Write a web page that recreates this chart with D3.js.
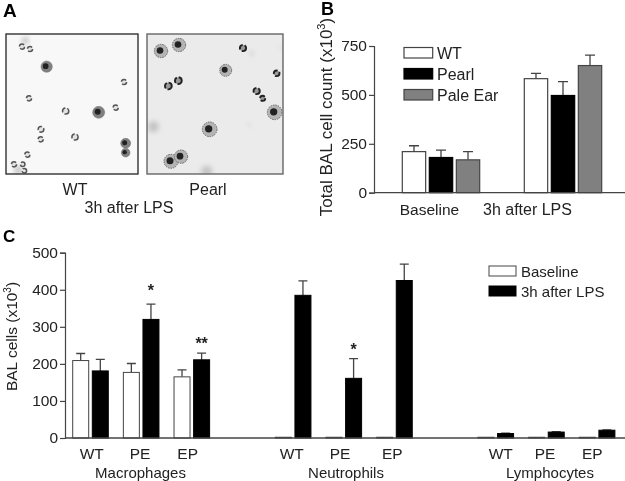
<!DOCTYPE html>
<html><head><meta charset="utf-8">
<script src="https://cdn.jsdelivr.net/npm/d3@7"></script>
<style>html,body{margin:0;padding:0;background:#fff}svg{display:block;filter:blur(.35px)}text{font-family:"Liberation Sans",Arial,sans-serif;fill:#222}</style>
</head><body><svg id="c" width="625" height="481"></svg>
<script>
// Panel B data
const bGroups=["Baseline","3h after LPS"];
const bSeries=["WT","Pearl","Pale Ear"];
const bColors=["#fff","#000","#808080"];
const bMeans=[[210,180,168],[583,497,650]];
const bTops=[[240,218,210],[610,568,703]];
const bTicks=[0,250,500,750];
// Panel C data
const cGroups=["Macrophages","Neutrophils","Lymphocytes"];
const cLabels=["WT","PE","EP"];
const cBaseline=[209,177,165, 2,2,2, 2,2,2];
const cBaseTop=[228,201,184, 2,2,2, 2,2,2];
const cLPS=[181,320,211, 385,161,425, 12,16,21];
const cLPSTop=[212,361,229, 424,214,469, 13,17,22];
const cStars=[null,"*","**",null,"*",null,null,null,null];
const cStarLevel=[null,383,240,null,224,null,null,null,null];
const cTicks=[0,100,200,300,400,500];
const cLegend=["Baseline","3h after LPS"];
// Panel A micrograph cells, [x,y,r]
const wtMacro=[[140,200,17],[296,337,18],[377,430,15],[377,458,13]];
const wtRing=[[66,140,9],[90,147,9],[372,246,9],[87,295,9],[197,333,11],[347,323,9],[123,388,10],[122,418,9],[225,411,11],[82,464,9],[42,493,9],[68,493,8],[73,512,8]];
const wtSmudge=[[76,122,11],[55,510,13]];
const peMacro=[[483,153,20],[537,135,20],[677,211,18],[824,337,22],[629,388,22],[513,484,21],[543,470,20]];
const peRing=[[729,144,11],[830,220,10],[505,258,12],[535,242,12],[770,273,11],[788,295,9]];
const peSmudge=[[460,380,17],[620,514,17],[755,160,6],[748,374,4],[845,143,4]];

const svg=d3.select("#c");
const defs=svg.append("defs");
defs.append("filter").attr("id","soft").append("feGaussianBlur").attr("stdDeviation",0.6);
defs.append("filter").attr("id","soft2").append("feGaussianBlur").attr("stdDeviation",2.5);
const axisCol="#444";

function label(x,y,t,size,anchor,weight){
  return svg.append("text").attr("x",x).attr("y",y).attr("font-size",size)
    .attr("text-anchor",anchor||"middle").attr("font-weight",weight||"normal").text(t);
}
label(3,17,"A",19,"start","bold").style("fill","#000");
label(321,14.5,"B",18,"start","bold").style("fill","#000");
label(3,242,"C",17,"start","bold").style("fill","#000");

// ---- Panel A
const px=d3.scaleLinear([0,930],[0,310]);
function micro(x,y,w,h,fill,stroke,macro,ring,smudge,dark){
  svg.append("rect").attr("x",x).attr("y",y).attr("width",w).attr("height",h).attr("fill",fill);
  const clipId="cl"+x;
  defs.append("clipPath").attr("id",clipId).append("rect").attr("x",x).attr("y",y).attr("width",w).attr("height",h);
  const o=svg.append("g").attr("clip-path",`url(#${clipId})`);
  const sg=o.append("g").attr("filter","url(#soft2)");
  sg.selectAll("circle").data(smudge).join("circle").attr("cx",d=>px(d[0])).attr("cy",d=>px(d[1])).attr("r",d=>px(d[2])).attr("fill","#c4c4c4");
  const cg=o.append("g").attr("filter","url(#soft)");
  cg.selectAll("circle.halo").data(macro).join("circle").attr("class","halo").attr("cx",d=>px(d[0])).attr("cy",d=>px(d[1])).attr("r",d=>px(d[2]))
    .attr("fill",dark?"#b4b4b4":"#808080").attr("stroke",dark?"#666":"#777").attr("stroke-width",dark?1:0.5).attr("stroke-dasharray",dark?"1.5 1":null);
  cg.selectAll("circle.nuc").data(macro).join("circle").attr("class","nuc").attr("cx",d=>px(d[0])-1).attr("cy",d=>px(d[1])-0.5).attr("r",d=>px(d[2])*(dark?0.5:0.5)).attr("fill","#222");
  cg.selectAll("circle.ring").data(ring).join("circle").attr("class","ring").attr("cx",d=>px(d[0])).attr("cy",d=>px(d[1])).attr("r",d=>px(d[2])*0.85)
    .attr("fill",dark?"#999":"#e4e4e4").attr("stroke",dark?"#222":"#555").attr("stroke-width",dark?1.9:1.5).attr("stroke-dasharray","6 2");
  svg.append("rect").attr("x",x).attr("y",y).attr("width",w).attr("height",h).attr("fill","none").attr("stroke",stroke).attr("stroke-width",1.4);
}
micro(6,34,132,140,"#f8f8f8","#333",wtMacro,wtRing,wtSmudge,false);
micro(147,34,136,140,"#ebebeb","#666",peMacro,peRing,peSmudge,true);
label(75,195,"WT",16);
label(208,195,"Pearl",16);
label(129,213,"3h after LPS",16);

// ---- Panel B
const by=d3.scaleLinear([0,750],[192.7,46]);
const bGroupX=d3.scaleOrdinal(bGroups,[402.3,524.3]);
const bx1=d3.scaleBand().domain(bSeries).range([0,77.4]).paddingInner(0.135);
const bAxis=d3.axisLeft(by).tickValues(bTicks).tickSize(5).tickPadding(2).tickFormat(d3.format("d"));
const bg=svg.append("g");
bGroups.forEach((gn,i)=>{
  bSeries.forEach((s,j)=>{
    const x=bGroupX(gn)+bx1(s), w=bx1.bandwidth(), cx=x+w/2;
    bg.append("path").attr("d",`M${cx},${by(bMeans[i][j])}V${by(bTops[i][j])}M${cx-5},${by(bTops[i][j])}H${cx+5}`).attr("stroke",axisCol).attr("stroke-width",1.3).attr("fill","none");
    bg.append("rect").attr("x",x).attr("y",by(bMeans[i][j])).attr("width",w).attr("height",by(0)-by(bMeans[i][j]))
      .attr("fill",bColors[j]).attr("stroke",j==1?"#000":axisCol).attr("stroke-width",1.2);
  });
});
const bAx=svg.append("g").attr("transform","translate(374,0)").call(bAxis);
bAx.selectAll("path,line").attr("stroke",axisCol).attr("stroke-width",1.2);
bAx.selectAll("text").attr("font-size",15.5);
svg.append("line").attr("x1",374).attr("x2",625).attr("y1",by(0)).attr("y2",by(0)).attr("stroke",axisCol).attr("stroke-width",1.3);
label(429.5,215,bGroups[0],15.5);
label(527.5,215,bGroups[1],16);
svg.append("text").attr("transform","translate(332,117) rotate(-90)").attr("text-anchor","middle").attr("font-size",17)
  .html('Total BAL cell count (x10<tspan dy="-7" font-size="11">3</tspan><tspan dy="7">)</tspan>');
const bLegY=d3.scalePoint().domain(bSeries).range([47.5,89.5]);
bSeries.forEach((s,j)=>{
  const y=bLegY(s);
  svg.append("rect").attr("x",404).attr("y",y).attr("width",28.7).attr("height",10.5).attr("fill",bColors[j]).attr("stroke",j==1?"#000":axisCol).attr("stroke-width",1.2);
  label(437,y+11,s,16,"start");
});

// ---- Panel C
const cy=d3.scaleLinear([0,500],[438,252.7]);
const cx=d3.scaleLinear([0,10],[72.7,579.3]);
const cLabelX=d3.scaleOrdinal(d3.range(9),[91.7,140,187.7,291.7,340,392.3,500.7,545,592.3]);
const barW=16, pairGap=19.6;
const cRows=d3.range(9).map(i=>({i,slot:Math.floor(i/3)*4+i%3,lab:cLabels[i%3]}));
const cg=svg.append("g");
function cErr(x,top,mean){
  if(top-mean<1) return;
  const m=x+barW/2;
  cg.append("path").attr("d",`M${m},${cy(mean)}V${cy(top)}M${m-4.5},${cy(top)}H${m+4.5}`).attr("stroke",axisCol).attr("stroke-width",1.3).attr("fill","none");
}
cRows.forEach(r=>{
  const x=cx(r.slot);
  cErr(x,cBaseTop[r.i],cBaseline[r.i]);
  cErr(x+pairGap,cLPSTop[r.i],cLPS[r.i]);
  cg.append("rect").attr("x",x).attr("y",cy(cBaseline[r.i])).attr("width",barW).attr("height",cy(0)-cy(cBaseline[r.i])).attr("fill","#fff").attr("stroke",axisCol).attr("stroke-width",1);
  cg.append("rect").attr("x",x+pairGap).attr("y",cy(cLPS[r.i])).attr("width",barW).attr("height",cy(0)-cy(cLPS[r.i])).attr("fill","#000").attr("stroke","#000").attr("stroke-width",1);
  label(cLabelX(r.i),458.5,r.lab,15.5);
  if(cStars[r.i]){ label(x+pairGap+barW/2,cy(cStarLevel[r.i]),cStars[r.i],16,"middle","bold"); }
});
const cAx=svg.append("g").attr("transform","translate(65,0)").call(d3.axisLeft(cy).tickValues(cTicks).tickSize(5).tickPadding(2).tickFormat(d3.format("d")));
cAx.selectAll("path,line").attr("stroke",axisCol).attr("stroke-width",1.2);
cAx.selectAll("text").attr("font-size",15.5);
svg.append("line").attr("x1",65).attr("x2",625).attr("y1",cy(0)).attr("y2",cy(0)).attr("stroke",axisCol).attr("stroke-width",1.3);
label(140.5,478,cGroups[0],15);
label(346,478,cGroups[1],15);
label(550,478,cGroups[2],15);
svg.append("text").attr("transform","translate(17,336.5) rotate(-90)").attr("text-anchor","middle").attr("font-size",15.5)
  .html('BAL cells (x10<tspan dy="-6" font-size="10">3</tspan><tspan dy="6">)</tspan>');
cLegend.forEach((s,j)=>{
  const y=266+j*20;
  svg.append("rect").attr("x",489).attr("y",y).attr("width",27).attr("height",10).attr("fill",j?"#000":"#fff").attr("stroke",j?"#000":axisCol).attr("stroke-width",1);
  label(521,y+10.5,s,15,"start");
});
</script></body></html>
